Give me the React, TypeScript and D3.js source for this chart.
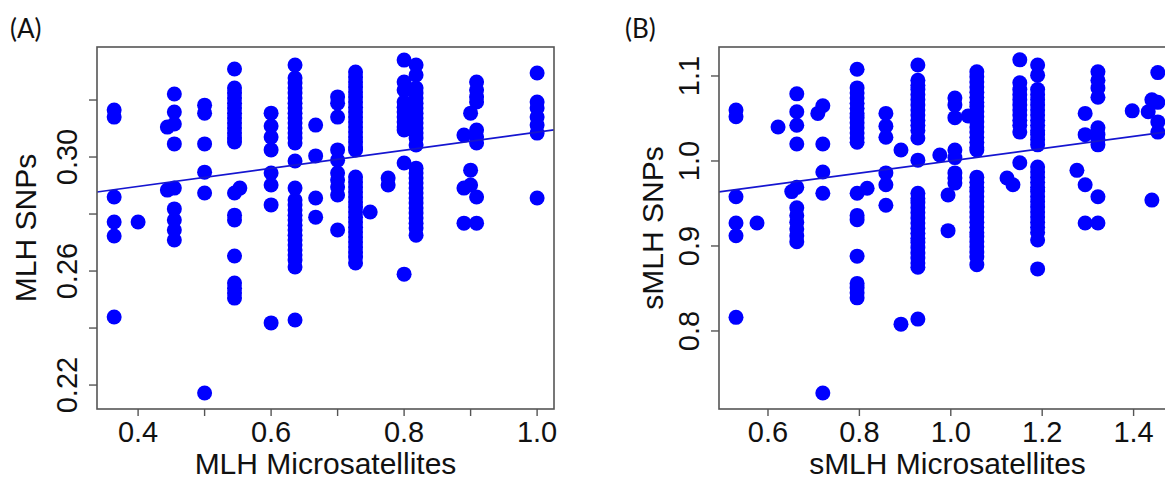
import React from "react";
import * as d3 from "d3";

// ---------- Panel A data: MLH microsatellites (x) vs MLH SNPs (y) ----------
const mlhMsatX = [0.364, 0.4, 0.444, 0.4545, 0.5, 0.545, 0.553, 0.6, 0.636, 0.667, 0.7, 0.727, 0.749, 0.776, 0.8, 0.818, 0.89, 0.9, 0.909, 1.0];
const mlhSnpY = [
  [0.3165, 0.314, 0.286, 0.2772, 0.2723, 0.2439],
  [0.2772],
  [0.3105, 0.2884],
  [0.3221, 0.3158, 0.3116, 0.3046, 0.2891, 0.2818, 0.2779, 0.2744, 0.2709],
  [0.3182, 0.3154, 0.3046, 0.2947, 0.2874, 0.2172],
  [0.3309, 0.3242, 0.3225, 0.3207, 0.3189, 0.3172, 0.3154, 0.3137, 0.3119, 0.3102, 0.3084, 0.3067, 0.3053, 0.2874, 0.2796, 0.2779, 0.2653, 0.2558, 0.254, 0.2523, 0.2505],
  [0.2891],
  [0.3154, 0.3109, 0.307, 0.3025, 0.2944, 0.2902, 0.2832, 0.2418],
  [0.3323, 0.3277, 0.326, 0.3242, 0.3225, 0.3207, 0.3189, 0.3172, 0.3154, 0.3137, 0.3119, 0.3102, 0.3084, 0.3067, 0.3049, 0.2986, 0.2891, 0.2849, 0.2832, 0.2814, 0.2796, 0.2779, 0.2761, 0.2744, 0.2726, 0.2709, 0.2691, 0.2674, 0.2656, 0.2639, 0.2614, 0.2428],
  [0.3112, 0.3004, 0.2856, 0.2789],
  [0.3211, 0.3189, 0.314, 0.3025, 0.2989, 0.2944, 0.2919, 0.2895, 0.2867, 0.2744],
  [0.3298, 0.3281, 0.3263, 0.3246, 0.3228, 0.3211, 0.3193, 0.3175, 0.3158, 0.314, 0.3123, 0.3105, 0.3088, 0.307, 0.3053, 0.3035, 0.3025, 0.293, 0.2912, 0.2895, 0.2877, 0.286, 0.2842, 0.2825, 0.2807, 0.2789, 0.2772, 0.2754, 0.2737, 0.2719, 0.2702, 0.2684, 0.2667, 0.2649, 0.2628],
  [0.2807],
  [0.2926, 0.2902],
  [0.334, 0.3263, 0.3235, 0.3193, 0.3175, 0.3158, 0.314, 0.3123, 0.3105, 0.3095, 0.2979, 0.2589],
  [0.3323, 0.3288, 0.3242, 0.3225, 0.3207, 0.3189, 0.3172, 0.3154, 0.3137, 0.3119, 0.3102, 0.3084, 0.3067, 0.3042, 0.2961, 0.2944, 0.2926, 0.2909, 0.2891, 0.2874, 0.2856, 0.2839, 0.2821, 0.2804, 0.2786, 0.2768, 0.2751, 0.2726],
  [0.3077, 0.2891, 0.2768],
  [0.3154, 0.2954, 0.2902],
  [0.3263, 0.3235, 0.3211, 0.3193, 0.3095, 0.307, 0.3049, 0.286, 0.2768],
  [0.3295, 0.3193, 0.3172, 0.314, 0.3112, 0.3084, 0.2856],
];
const fitA = [0.277, 0.0317]; // intercept, slope

// ---------- Panel B data: sMLH microsatellites (x) vs sMLH SNPs (y) ----------
const smlhMsatX = [0.53, 0.576, 0.622, 0.652, 0.663, 0.709, 0.72, 0.795, 0.817, 0.858, 0.891, 0.928, 0.976, 0.994, 1.009, 1.038, 1.057, 1.123, 1.136, 1.151, 1.19, 1.276, 1.294, 1.322, 1.397, 1.432, 1.44, 1.453];
const smlhSnpY = [
  [1.06, 1.052, 0.958, 0.927, 0.912, 0.816],
  [0.927],
  [1.04],
  [0.964],
  [1.079, 1.058, 1.042, 1.02, 0.969, 0.945, 0.936, 0.928, 0.92, 0.912, 0.905],
  [1.056],
  [1.065, 1.02, 0.987, 0.962, 0.727],
  [1.108, 1.086, 1.08, 1.074, 1.068, 1.062, 1.056, 1.051, 1.045, 1.039, 1.033, 1.027, 1.022, 0.962, 0.936, 0.931, 0.888, 0.856, 0.851, 0.845, 0.839],
  [0.968],
  [1.056, 1.041, 1.028, 0.986, 0.972, 0.948],
  [1.013, 0.808],
  [1.113, 1.095, 1.089, 1.084, 1.078, 1.072, 1.066, 1.06, 1.054, 1.048, 1.042, 1.036, 1.027, 1.001, 0.962, 0.956, 0.951, 0.945, 0.939, 0.933, 0.927, 0.921, 0.915, 0.909, 0.904, 0.898, 0.892, 0.886, 0.88, 0.875, 0.814],
  [1.007],
  [0.96, 0.918],
  [1.074, 1.066, 1.051, 1.013, 1.004, 0.986, 0.98, 0.974],
  [1.053],
  [1.105, 1.099, 1.093, 1.087, 1.081, 1.075, 1.069, 1.064, 1.058, 1.052, 1.046, 1.04, 1.034, 1.028, 1.022, 1.016, 1.013, 0.981, 0.975, 0.969, 0.964, 0.958, 0.952, 0.946, 0.94, 0.934, 0.928, 0.922, 0.916, 0.911, 0.905, 0.899, 0.893, 0.887, 0.878],
  [0.98],
  [0.972],
  [1.119, 1.092, 1.084, 1.078, 1.072, 1.066, 1.06, 1.054, 1.048, 1.042, 1.034, 0.998],
  [1.113, 1.101, 1.084, 1.078, 1.072, 1.066, 1.06, 1.054, 1.048, 1.042, 1.036, 1.031, 1.025, 1.019, 0.993, 0.987, 0.981, 0.975, 0.969, 0.964, 0.958, 0.952, 0.946, 0.94, 0.934, 0.928, 0.922, 0.916, 0.907, 0.873],
  [0.989],
  [1.056, 1.031, 0.972, 0.927],
  [1.105, 1.095, 1.086, 1.075, 1.039, 1.031, 1.025, 1.019, 0.958, 0.927],
  [1.059],
  [1.058],
  [1.072, 0.954],
  [1.104, 1.069, 1.046, 1.034],
];
const fitB = [0.928, 0.0722];

const xTicksA = [0.4, 0.5, 0.6, 0.7, 0.8, 0.9, 1.0];
const xLabelsA = [0.4, 0.6, 0.8, 1.0];
const yTicksA = [0.22, 0.24, 0.26, 0.28, 0.3, 0.32];
const yLabelsA = [0.22, 0.26, 0.3];
const xTicksB = [0.6, 0.8, 1.0, 1.2, 1.4];
const yTicksB = [0.8, 0.9, 1.0, 1.1];

const AXIS = "#555";
const TXT = "#111";
const PT = "#0000ff";
const FONT = "'Liberation Sans', Arial, sans-serif";

type PanelProps = {
  id: string;
  left: number;
  xDomain: [number, number];
  yDomain: [number, number];
  xs: number[];
  ys: number[][];
  fit: number[];
  xTicks: number[];
  xLabels: number[];
  xFmt: (v: number) => string;
  yTicks: number[];
  yLabels: number[];
  yFmt: (v: number) => string;
  xTitle: string;
  yTitle: string;
  yTitleX: number;
  tag: string;
  tagX: number;
};

const TOP = 47;
const BOTTOM = 409;
const WIDTH = 457;

function Panel(p: PanelProps) {
  const right = p.left + WIDTH;
  const x = d3.scaleLinear().domain(p.xDomain).range([p.left, right]);
  const y = d3.scaleLinear().domain(p.yDomain).range([BOTTOM, TOP]);
  const pts: [number, number][] = [];
  p.xs.forEach((xv, i) => p.ys[i].forEach((yv) => pts.push([xv, yv])));
  const line = d3.line<number>().x((d) => x(d)).y((d) => y(p.fit[0] + p.fit[1] * d));
  const cx = (p.left + right) / 2;
  const cy = (TOP + BOTTOM) / 2;
  return (
    <g>
      <defs>
        <clipPath id={`clip-${p.id}`}>
          <rect x={p.left} y={TOP} width={WIDTH} height={BOTTOM - TOP} />
        </clipPath>
      </defs>
      <g clipPath={`url(#clip-${p.id})`}>
        {pts.map((d, i) => (
          <circle key={i} cx={x(d[0])} cy={y(d[1])} r={7.5} fill={PT} />
        ))}
        <path d={line(p.xDomain) || ""} stroke="#1515d0" strokeWidth={1.7} fill="none" />
      </g>
      <rect x={p.left} y={TOP} width={WIDTH} height={BOTTOM - TOP} fill="none" stroke={AXIS} strokeWidth={1.6} />
      {p.xTicks.map((t) => (
        <line key={t} x1={x(t)} x2={x(t)} y1={BOTTOM} y2={BOTTOM + 7} stroke={AXIS} strokeWidth={1.4} />
      ))}
      {p.xLabels.map((t) => (
        <text key={t} x={x(t)} y={442} textAnchor="middle" fontSize={29} fontFamily={FONT} fill={TXT}>
          {p.xFmt(t)}
        </text>
      ))}
      {p.yTicks.map((t) => (
        <line key={t} x1={p.left - 8} x2={p.left} y1={y(t)} y2={y(t)} stroke={AXIS} strokeWidth={1.4} />
      ))}
      {p.yLabels.map((t) => (
        <text key={t} transform={`translate(${p.left - 20},${y(t)}) rotate(-90)`} textAnchor="middle" fontSize={29} fontFamily={FONT} fill={TXT}>
          {p.yFmt(t)}
        </text>
      ))}
      <text x={cx} y={474} textAnchor="middle" fontSize={30} fontFamily={FONT} fill={TXT}>
        {p.xTitle}
      </text>
      <text transform={`translate(${p.yTitleX},${cy}) rotate(-90)`} textAnchor="middle" fontSize={30} fontFamily={FONT} fill={TXT}>
        {p.yTitle}
      </text>
      <text x={p.tagX} y={38} fontSize={26} fontFamily="Lato, 'Open Sans', sans-serif" fill={TXT}>
        {p.tag}
      </text>
    </g>
  );
}

export default function App() {
  const f1 = d3.format(".1f");
  const f2 = d3.format(".2f");
  return (
    <svg width={1165} height={480} style={{ position: "absolute", left: 0, top: 0, background: "#fff" }}>
      <rect x={0} y={0} width={1165} height={480} fill="#fff" />
      <Panel
        id="a"
        left={97}
        xDomain={[0.3382, 1.0254]}
        yDomain={[0.2116, 0.3386]}
        xs={mlhMsatX}
        ys={mlhSnpY}
        fit={fitA}
        xTicks={xTicksA}
        xLabels={xLabelsA}
        xFmt={f1}
        yTicks={yTicksA}
        yLabels={yLabelsA}
        yFmt={f2}
        xTitle="MLH Microsatellites"
        yTitle="MLH SNPs"
        yTitleX={36}
        tag="(A)"
        tagX={10}
      />
      <Panel
        id="b"
        left={719}
        xDomain={[0.4928, 1.4928]}
        yDomain={[0.7082, 1.1341]}
        xs={smlhMsatX}
        ys={smlhSnpY}
        fit={fitB}
        xTicks={xTicksB}
        xLabels={xTicksB}
        xFmt={f1}
        yTicks={yTicksB}
        yLabels={yTicksB}
        yFmt={f1}
        xTitle="sMLH Microsatellites"
        yTitle="sMLH SNPs"
        yTitleX={663}
        tag="(B)"
        tagX={625}
      />
    </svg>
  );
}
